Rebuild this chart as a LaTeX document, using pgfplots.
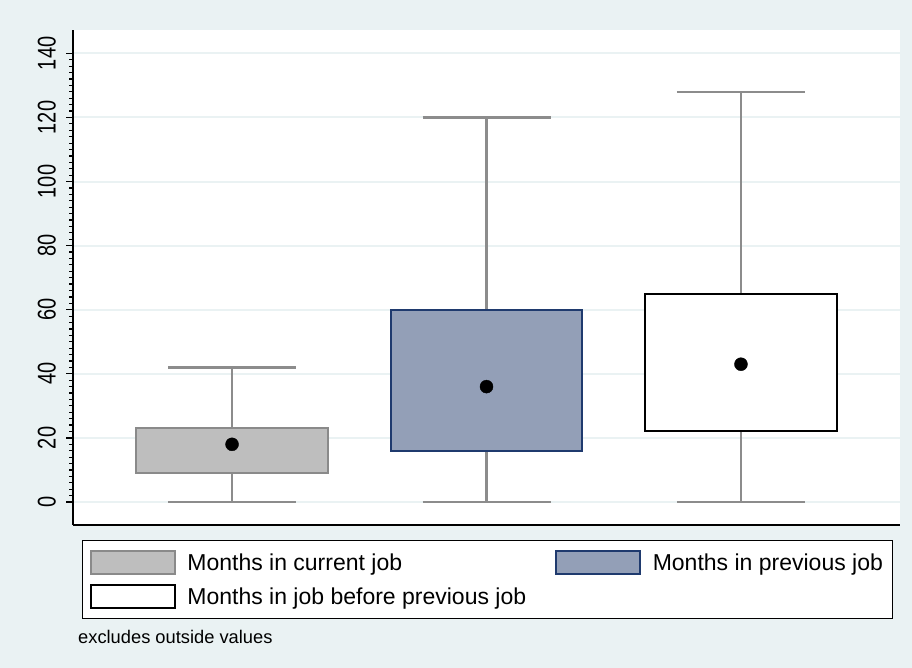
\documentclass[border=0pt]{standalone}
\usepackage{pgfplots}
\pgfplotsset{compat=1.18}
\usepgfplotslibrary{statistics}
\usepackage{fontspec}
\setmainfont{Liberation Sans}
\definecolor{bgc}{HTML}{EAF2F3}
\definecolor{wg}{HTML}{8C8C8C}
\definecolor{c1f}{HTML}{BEBEBE}
\definecolor{c1d}{HTML}{8A8A8A}
\definecolor{c2f}{HTML}{939FB7}
\definecolor{c2d}{HTML}{1F3A6E}
\begin{document}
\begin{tikzpicture}
\useasboundingbox (0,0) rectangle (912pt,668pt);
\fill[bgc] (0,0) rectangle (912pt,668pt);
\begin{axis}[
  at={(73pt,143pt)}, anchor=south west,
  scale only axis, width=827pt, height=495pt,
  xmin=0.375, xmax=3.625, ymin=-7.18, ymax=147.3,
  axis x line*=bottom, axis y line*=left,
  axis line style={black, line width=1.4pt, -},
  xtick=\empty,
  ytick={0,20,...,140}, minor y tick num=9,
  tick align=outside, major tick length=7pt, minor tick length=4pt,
  every tick/.style={black, line width=1.2pt},
  ymajorgrids, grid style={bgc, line width=2pt},
  axis background/.style={fill=white},
  yticklabel={\scalebox{1}[1.28]{\pgfmathprintnumber{\tick}}},
  yticklabel style={rotate=90, anchor=south, font=\fontsize{20}{20}\selectfont, inner sep=0pt, yshift=10pt},
  /pgf/number format/assume math mode=true,
  boxplot/draw direction=y,
  boxplot/draw/median/.code={\fill[black] (boxplot box cs:\pgfplotsboxplotvalue{median},0.5) circle[radius=6.5pt];},
  legend columns=2, legend cell align=left,
  legend style={font=\fontsize{23}{23}\selectfont, draw=black, line width=1.2pt, fill=white,
    at={(0.0105,-0.0303)}, anchor=north west, inner xsep=7.5pt, inner ysep=4.75pt,
    /tikz/every even column/.append style={column sep=27pt}},
]
\addplot[boxplot prepared={median=18, lower quartile=9, upper quartile=23, lower whisker=0, upper whisker=42, draw position=1, box extend=0.754, whisker extend=0.503},
  boxplot/every box/.style={draw=c1d, fill=c1f, line width=2pt},
  boxplot/every whisker/.style={draw=wg, line width=2.5pt},
  legend image code/.code={\draw[draw=c1d, fill=c1f, line width=2pt] (0pt,-11.5pt) rectangle (84pt,11.5pt); \path (94pt,-16.5pt) (94pt,16.5pt);}]
  coordinates {};
\addlegendentry{Months in current job}
\addplot[boxplot prepared={median=36, lower quartile=16, upper quartile=60, lower whisker=0, upper whisker=120, draw position=2, box extend=0.754, whisker extend=0.503},
  boxplot/every box/.style={draw=c2d, fill=c2f, line width=2pt},
  boxplot/every whisker/.style={draw=wg, line width=2.5pt},
  legend image code/.code={\draw[draw=c2d, fill=c2f, line width=2pt] (0pt,-11.5pt) rectangle (84pt,11.5pt); \path (94pt,-16.5pt) (94pt,16.5pt);}]
  coordinates {};
\addlegendentry{Months in previous job}
\addplot[boxplot prepared={median=43, lower quartile=22, upper quartile=65, lower whisker=0, upper whisker=128, draw position=3, box extend=0.754, whisker extend=0.503},
  boxplot/every box/.style={draw=black, fill=white, line width=2pt},
  boxplot/every whisker/.style={draw=wg, line width=2.5pt},
  legend image code/.code={\draw[draw=black, fill=white, line width=2pt] (0pt,-11.5pt) rectangle (84pt,11.5pt); \path (94pt,-16.5pt) (94pt,16.5pt);}]
  coordinates {};
\addlegendentry{Months in job before previous job}
\end{axis}
\node[anchor=base west, font=\fontsize{18.3}{18.3}\selectfont, inner sep=0pt] at (78pt,24.5pt) {excludes outside values};
\end{tikzpicture}
\end{document}
